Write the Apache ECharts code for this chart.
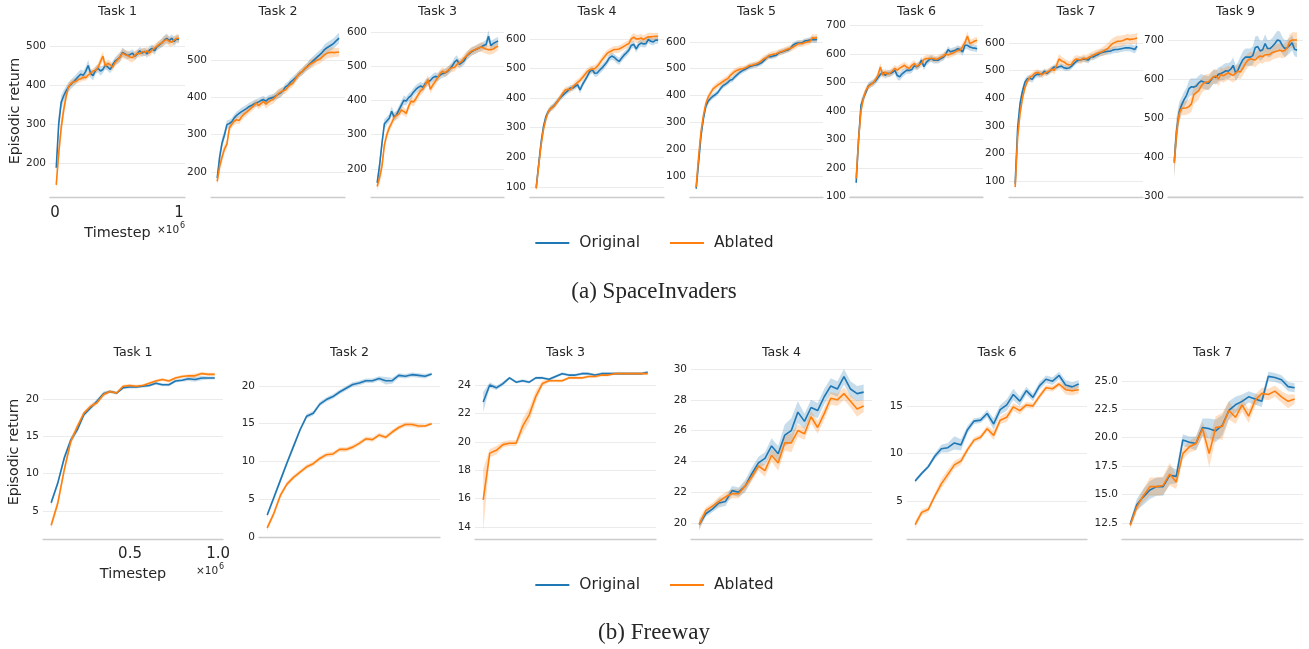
<!DOCTYPE html>
<html>
<head>
<meta charset="utf-8">
<script src="https://cdn.jsdelivr.net/npm/echarts@6/dist/echarts.min.js"></script>
<style>
  html, body { margin: 0; padding: 0; background: #fff; }
  #main { width: 1309px; height: 649px; }
</style>
</head>
<body>
<div id="main"></div>
<script>
// ---- data: SpaceInvaders (51 evaluations, x in 1e6 steps) ----
const spaceTitles = ['Task 1', 'Task 2', 'Task 3', 'Task 4', 'Task 5', 'Task 6', 'Task 7', 'Task 9'];

const siT1Orig = [188,300,355,372,385,395,402,408,415,422, 428,425,435,450,430,424,438,443,436,440, 451,446,440,452,462,466,472,484,480,476, 478,482,474,480,488,482,486,480,490,494, 488,498,503,508,515,520,514,520,512,518, 517];
const siT1OrigSd = [15,25,18,14,12,12,12,12,12,12, 12,12,12,14,12,12,10,10,12,10, 10,10,10,10,10,12,12,12,10,10, 10,10,10,10,10,10,10,10,10,10, 10,10,10,12,12,12,10,10,12,10, 10];
const siT1Abl = [144,225,290,335,370,396,404,408,410,414, 416,420,419,426,430,436,438,445,460,474, 448,456,452,446,458,465,472,482,478,476, 472,470,476,482,480,486,484,488,482,490, 495,500,505,508,514,517,512,510,515,520, 520];
const siT1AblSd = [15,25,25,20,15,10,8,8,8,8, 8,8,8,8,8,8,8,10,12,12, 10,10,10,10,10,10,12,12,12,12, 12,12,12,10,10,10,10,10,10,10, 10,10,10,10,12,12,12,12,10,10, 10];

const siT2Orig = [184,240,278,300,327,330,335,345,352,357, 362,366,370,375,378,382,385,388,392,394, 390,396,398,400,404,408,412,418,428,432, 440,446,452,458,465,470,477,483,490,496, 502,508,514,520,528,533,537,541,546,553, 559];
const siT2OrigSd = [12,15,15,12,12,10,10,10,10,10, 10,10,10,10,10,10,10,10,10,10, 10,10,10,10,10,12,12,10,10,10, 10,10,10,10,10,10,10,10,12,12, 12,12,12,12,14,14,14,14,14,14, 14];
const siT2Abl = [175,215,240,262,275,318,328,336,340,338, 348,355,360,366,372,378,385,378,384,389, 382,388,392,395,402,410,414,418,420,428, 434,438,448,458,465,470,478,482,488,492, 496,500,502,508,514,518,520,521,520,521, 521];
const siT2AblSd = [12,15,15,12,12,10,10,10,10,10, 10,10,10,10,10,10,10,10,10,10, 12,12,12,12,12,12,12,10,10,10, 10,10,10,10,10,10,10,10,12,12, 12,12,12,12,14,14,14,14,12,12, 12];

const siT3Orig = [159,210,275,332,340,348,368,352,358,372, 386,400,398,408,414,424,432,438,442,438, 450,454,458,466,470,468,474,478,480,484, 492,500,512,518,505,510,516,530,536,542, 546,549,553,556,560,563,587,560,566,570, 573];
const siT3OrigSd = [12,20,18,14,12,12,14,12,12,12, 12,14,12,12,12,12,12,12,12,12, 12,12,12,12,12,12,12,12,12,12, 12,12,14,14,12,12,12,12,12,12, 12,12,12,12,12,14,18,14,12,12, 12];
const siT3Abl = [149,175,208,270,300,320,334,350,356,360, 372,368,362,382,398,395,405,417,428,434, 446,461,432,445,455,466,478,485,480,486, 492,495,496,505,510,514,524,530,538,544, 546,550,553,556,553,550,548,548,550,555, 558];
const siT3AblSd = [12,20,20,16,14,12,12,12,12,12, 12,12,12,12,12,12,12,12,12,12, 12,14,12,12,12,12,12,12,12,12, 12,12,12,12,12,12,12,12,12,12, 12,12,12,14,14,14,14,14,14,14, 12];

const siT4Orig = [98,175,250,304,338,355,365,372,382,392, 402,410,418,425,434,434,440,445,428,446, 460,474,490,496,484,485,494,502,512,522, 536,542,538,530,524,535,545,553,562,578, 582,566,580,586,583,584,598,592,590,596, 596];
const siT4OrigSd = [10,20,18,14,12,10,10,10,10,10, 10,10,10,10,10,10,10,10,12,10, 10,10,12,12,12,12,12,12,12,12, 12,12,12,12,12,12,12,12,12,12, 12,12,12,12,12,12,12,12,12,12, 12];
const siT4Abl = [94,170,240,295,330,355,366,370,380,392, 405,418,428,430,428,438,446,453,460,470, 480,490,496,498,500,507,518,530,540,550, 556,560,564,564,566,570,575,580,584,600, 606,600,600,603,598,603,607,607,608,609, 609];
const siT4AblSd = [10,20,18,14,12,10,10,10,10,10, 10,10,10,10,10,10,12,12,12,12, 12,12,12,12,12,12,12,12,12,12, 12,12,12,12,12,12,12,12,12,12, 14,14,14,14,14,14,14,14,12,12, 12];

const siT5Orig = [53,150,250,314,360,380,390,398,404,412, 425,436,442,448,457,460,470,478,486,492, 497,502,507,510,513,514,518,522,530,540, 546,545,548,550,558,562,564,568,570,576, 588,593,596,596,598,604,605,607,609,608, 609];
const siT5OrigSd = [12,25,20,15,12,12,10,10,10,10, 10,10,10,10,10,10,10,10,10,10, 10,10,10,10,10,10,10,10,10,10, 10,10,10,10,10,10,10,10,10,10, 10,10,10,10,10,10,10,10,12,12, 12];
const siT5Abl = [59,170,265,326,370,395,410,425,432,440, 445,452,458,463,474,482,490,494,498,500, 502,506,512,513,516,519,523,530,538,540, 548,552,554,556,560,563,566,570,574,576, 580,586,592,594,594,598,600,602,615,614, 616];
const siT5AblSd = [12,25,20,15,12,12,12,12,12,12, 12,12,12,12,12,12,12,12,12,10, 10,10,10,10,10,10,10,12,12,12, 12,12,12,12,12,12,12,12,12,12, 12,12,12,12,12,12,12,12,14,14, 14];

const siT6Orig = [149,300,420,445,465,487,494,498,505,516, 528,535,525,532,531,535,542,524,520,530, 537,543,542,545,558,555,560,578,555,570, 578,584,578,578,578,584,588,598,615,607, 610,613,618,615,607,630,630,624,621,620, 618];
const siT6OrigSd = [20,30,20,15,12,12,12,12,12,12, 12,12,12,12,12,12,12,14,14,14, 12,12,12,12,12,12,12,12,12,12, 12,12,12,12,12,12,12,12,12,12, 12,12,12,12,14,14,14,12,12,12, 12];
const siT6Abl = [164,300,400,445,472,485,492,498,510,525, 554,525,537,528,533,540,549,543,550,555, 560,553,549,560,566,556,562,566,580,584, 584,584,584,580,584,588,592,600,596,600, 603,607,612,613,625,640,662,636,640,645, 648];
const siT6AblSd = [20,30,20,15,12,10,10,10,10,12, 14,12,12,12,12,12,12,12,12,12, 12,12,12,12,12,12,12,12,12,12, 12,12,12,12,12,12,12,12,12,12, 12,12,12,12,14,14,16,14,12,12, 12];

const siT7Orig = [90,290,380,425,458,470,472,468,481,487, 486,488,497,490,497,505,513,510,514,516, 510,508,509,515,524,533,538,539,542,540, 538,549,549,554,558,564,566,568,570,570, 574,576,576,578,580,582,582,582,580,576, 588];
const siT7OrigSd = [20,35,25,15,12,12,12,12,12,12, 12,10,10,10,10,10,10,10,10,10, 10,10,10,10,10,10,10,10,10,10, 12,12,12,12,12,12,12,12,12,12, 12,12,12,12,12,12,12,12,14,14, 14];
const siT7Abl = [78,260,345,400,438,462,475,481,490,493, 490,485,491,494,499,505,500,520,542,535, 531,524,521,522,535,542,540,539,545,542, 547,551,556,560,564,566,570,575,580,590, 598,602,606,606,608,612,615,612,614,615, 618];
const siT7AblSd = [20,35,25,15,12,12,12,12,12,12, 12,12,12,12,12,12,14,16,18,16, 14,14,14,14,14,14,14,14,14,14, 14,14,14,14,14,14,16,18,20,20, 20,20,20,20,20,18,18,18,18,18, 18];

const siT9Orig = [388,470,515,533,547,558,575,580,579,582, 590,595,592,590,589,597,606,604,612,614, 617,621,620,625,635,615,624,638,650,656, 656,656,660,681,683,672,675,691,678,678, 684,691,700,698,686,678,680,686,693,676, 674];
const siT9OrigSd = [40,35,25,20,20,20,22,22,22,20, 18,18,18,18,18,18,18,18,18,18, 20,20,20,20,20,20,20,20,22,22, 22,22,24,28,28,26,24,24,22,22, 22,24,24,24,22,22,20,20,20,18, 18];
const siT9Abl = [384,465,510,525,525,526,529,536,560,565, 570,582,589,592,593,600,605,608,600,612, 608,612,616,612,609,615,620,618,628,640, 648,652,650,649,655,659,657,662,662,663, 668,670,672,674,671,673,680,696,700,700, 700];
const siT9AblSd = [40,30,20,18,18,18,18,20,24,24, 22,20,20,20,20,18,18,18,18,18, 18,18,18,18,18,18,18,18,18,18, 18,18,18,18,18,18,18,18,18,18, 18,18,18,18,18,18,18,18,20,20, 20];

// ---- data: Freeway (26 evaluations) ----
const freewayTitles = ['Task 1', 'Task 2', 'Task 3', 'Task 4', 'Task 6', 'Task 7'];

const fwT1Orig = [6.1,8.7,12.1,14.5,15.9,17.9,18.8,19.7,20.7,21.0, 20.8,21.5,21.6,21.6,21.7,21.8,22.1,21.9,21.9,22.4, 22.5,22.7,22.6,22.8,22.8,22.8];
const fwT1OrigSd = [0.4,0.4,0.5,0.4,0.4,0.3,0.3,0.3,0.3,0.2, 0.2,0.2,0.2,0.2,0.2,0.2,0.2,0.2,0.2,0.2, 0.2,0.3,0.3,0.3,0.2,0.2];
const fwT1Abl = [3.1,6.0,10.5,14.3,16.3,18.1,19.0,19.5,20.6,21.0, 20.8,21.7,21.8,21.7,21.8,22.1,22.4,22.6,22.4,22.8, 23.0,23.1,23.1,23.4,23.3,23.3];
const fwT1AblSd = [0.5,0.6,0.6,0.5,0.4,0.3,0.3,0.3,0.3,0.2, 0.2,0.2,0.2,0.2,0.2,0.2,0.2,0.2,0.2,0.2, 0.2,0.2,0.3,0.2,0.2,0.2];

const fwT2Orig = [2.9,5.2,7.5,9.8,12.0,14.2,16.0,16.4,17.6,18.2, 18.6,19.2,19.7,20.2,20.4,20.7,20.7,21.0,20.7,20.7, 21.4,21.3,21.5,21.4,21.3,21.6];
const fwT2OrigSd = [0.3,0.4,0.4,0.4,0.4,0.3,0.3,0.3,0.3,0.3, 0.3,0.3,0.3,0.3,0.3,0.3,0.3,0.3,0.5,0.4, 0.3,0.3,0.3,0.3,0.3,0.2];
const fwT2Abl = [1.2,3.1,5.5,7.0,7.9,8.6,9.3,9.7,10.4,10.9, 11.0,11.6,11.6,11.9,12.4,13.0,12.9,13.5,13.2,13.9, 14.5,14.9,14.9,14.7,14.7,15.0];
const fwT2AblSd = [0.4,0.4,0.4,0.3,0.3,0.3,0.3,0.3,0.3,0.3, 0.3,0.3,0.3,0.3,0.3,0.3,0.3,0.3,0.3,0.3, 0.3,0.3,0.3,0.3,0.2,0.2];

const fwT3Orig = [22.8,24.0,23.8,24.1,24.5,24.2,24.3,24.2,24.5,24.5, 24.4,24.6,24.8,24.7,24.7,24.8,24.8,24.7,24.8,24.8, 24.8,24.8,24.8,24.8,24.8,24.9];
const fwT3OrigSd = [0.7,0.2,0.15,0.15,0.1,0.1,0.1,0.1,0.1,0.1, 0.1,0.1,0.1,0.1,0.1,0.1,0.1,0.1,0.1,0.1, 0.1,0.1,0.1,0.1,0.1,0.1];
const fwT3Abl = [15.9,19.2,19.4,19.8,19.9,19.9,21.1,21.9,23.2,24.1, 24.3,24.3,24.3,24.5,24.5,24.5,24.6,24.6,24.7,24.7, 24.8,24.8,24.8,24.8,24.8,24.8];
const fwT3AblSd = [2.2,0.3,0.3,0.2,0.2,0.2,0.5,0.5,0.4,0.2, 0.1,0.1,0.1,0.1,0.1,0.1,0.1,0.1,0.1,0.1, 0.1,0.1,0.1,0.1,0.1,0.1];

const fwT4Orig = [19.9,20.6,20.9,21.3,21.4,22.1,22.0,22.4,23.2,23.9, 24.2,25.0,24.5,25.7,26.0,27.2,26.6,27.5,27.3,28.2, 28.9,28.7,29.5,28.7,28.4,28.5];
const fwT4OrigSd = [0.3,0.2,0.2,0.3,0.3,0.3,0.3,0.4,0.4,0.4, 0.4,0.5,0.5,0.7,0.8,0.7,0.5,0.5,0.5,0.5, 0.5,0.5,0.5,0.5,0.5,0.5];
const fwT4Abl = [19.9,20.8,21.1,21.4,21.7,21.9,21.9,22.4,23.0,23.7, 23.4,24.4,23.9,25.2,25.2,26.0,25.8,26.9,26.2,27.1, 28.1,28.0,28.4,27.9,27.4,27.6];
const fwT4AblSd = [0.4,0.2,0.2,0.3,0.3,0.3,0.3,0.3,0.3,0.3, 0.4,0.4,0.5,0.5,0.6,0.4,0.4,0.4,0.4,0.4, 0.4,0.4,0.4,0.4,0.5,0.4];

const fwT6Orig = [7.1,7.9,8.6,9.7,10.5,10.6,11.1,10.9,12.5,13.4, 13.5,14.2,13.1,14.6,15.1,16.2,15.5,16.6,15.9,17.1, 17.8,17.6,18.2,17.2,17.0,17.3];
const fwT6OrigSd = [0.2,0.2,0.2,0.3,0.4,0.5,0.7,0.6,0.4,0.3, 0.3,0.4,0.6,0.5,0.6,0.6,0.5,0.4,0.4,0.4, 0.4,0.4,0.4,0.5,0.5,0.4];
const fwT6Abl = [2.5,3.8,4.1,5.5,6.8,7.8,8.8,9.2,10.4,11.4, 11.7,12.6,11.9,13.5,13.8,14.9,14.5,15.1,15.0,16.0, 16.9,16.8,17.3,16.7,16.6,16.7];
const fwT6AblSd = [0.4,0.3,0.3,0.3,0.5,0.5,0.4,0.4,0.3,0.3, 0.3,0.3,0.5,0.4,0.5,0.4,0.4,0.3,0.3,0.3, 0.3,0.3,0.3,0.5,0.5,0.4];

const fwT7Orig = [12.4,14.1,14.8,15.4,15.7,15.7,16.7,16.6,19.8,19.6, 19.5,20.9,20.8,20.6,21.1,22.4,22.9,23.2,23.6,23.4, 23.2,25.4,25.3,25.1,24.5,24.4];
const fwT7OrigSd = [0.3,0.5,0.7,0.8,0.8,0.8,0.8,0.6,0.5,0.5, 0.6,0.8,0.9,1.0,0.9,0.8,0.7,0.6,0.5,0.5, 0.5,0.4,0.4,0.4,0.4,0.4];
const fwT7Abl = [12.3,13.9,14.9,15.7,15.7,15.8,16.8,16.1,18.6,19.2, 19.5,20.8,18.6,20.9,21.0,22.4,21.8,22.9,21.9,23.3, 23.9,23.8,24.1,23.6,23.2,23.4];
const fwT7AblSd = [0.3,0.4,0.6,0.8,0.8,0.8,1.0,0.6,0.5,0.5, 0.6,0.6,1.2,1.0,1.2,0.8,0.6,0.6,0.6,0.5, 0.5,0.5,0.5,0.5,0.6,0.4];

function linspace(a, b, n) {
  const out = [];
  for (let i = 0; i < n; i++) out.push(a + (b - a) * i / (n - 1));
  return out;
}
const spaceSteps = linspace(0.01, 1.0, 51);
const freewaySteps = linspace(0.052, 0.981, 26);

const spaceData = [
  [siT1Orig, siT1OrigSd, siT1Abl, siT1AblSd],
  [siT2Orig, siT2OrigSd, siT2Abl, siT2AblSd],
  [siT3Orig, siT3OrigSd, siT3Abl, siT3AblSd],
  [siT4Orig, siT4OrigSd, siT4Abl, siT4AblSd],
  [siT5Orig, siT5OrigSd, siT5Abl, siT5AblSd],
  [siT6Orig, siT6OrigSd, siT6Abl, siT6AblSd],
  [siT7Orig, siT7OrigSd, siT7Abl, siT7AblSd],
  [siT9Orig, siT9OrigSd, siT9Abl, siT9AblSd]
];
const freewayData = [
  [fwT1Orig, fwT1OrigSd, fwT1Abl, fwT1AblSd],
  [fwT2Orig, fwT2OrigSd, fwT2Abl, fwT2AblSd],
  [fwT3Orig, fwT3OrigSd, fwT3Abl, fwT3AblSd],
  [fwT4Orig, fwT4OrigSd, fwT4Abl, fwT4AblSd],
  [fwT6Orig, fwT6OrigSd, fwT6Abl, fwT6AblSd],
  [fwT7Orig, fwT7OrigSd, fwT7Abl, fwT7AblSd]
];

// ---- layout: [left, width, yMin, yMax, yInterval] ----
const spaceLayout = [
  [50, 135, 113, 554, 100], [211, 134, 133, 594, 100], [371, 133, 118, 620, 100], [530, 134, 66, 647, 100],
  [690, 133, 22, 663, 100], [850, 133, 99, 701, 100], [1009, 134, 42, 665, 100], [1168, 135, 297, 738.5, 100]
];
const freewayLayout = [
  [43, 180, 1.25, 24.55, 5], [259, 181, -0.27, 22.78, 5], [475, 181, 13.15, 25.41, 2],
  [691, 181, 18.96, 30.26, 2], [907, 180, 1.0, 19.3, 5], [1122, 181, 11.09, 26.4, 2.5]
];

const BLUE = '#1f77b4', ORANGE = '#ff7f0e';
const BLUE_BAND = 'rgba(31,119,180,0.25)', ORANGE_BAND = 'rgba(255,127,14,0.25)';
const TEXT = '#262626';
const FONT = 'DejaVu Sans';

const grids = [], xAxes = [], yAxes = [], series = [], graphics = [];

function bandSeries(idx, xs, mean, sd, fill) {
  return {
    type: 'custom', xAxisIndex: idx, yAxisIndex: idx, silent: true, z: 1, clip: true,
    data: [[xs[0], mean[0]]], encode: { x: 0, y: 1 },
    renderItem: function (params, api) {
      const pts = [];
      for (let k = 0; k < xs.length; k++) pts.push(api.coord([xs[k], mean[k] + sd[k]]));
      for (let k = xs.length - 1; k >= 0; k--) pts.push(api.coord([xs[k], mean[k] - sd[k]]));
      return { type: 'polygon', shape: { points: pts }, style: { fill: fill } };
    }
  };
}

function lineSeries(idx, name, xs, mean, color) {
  return {
    type: 'line', name: name, xAxisIndex: idx, yAxisIndex: idx, z: 3, silent: true,
    symbol: 'none', showSymbol: false,
    data: xs.map((x, k) => [x, mean[k]]),
    lineStyle: { width: 1.6, color: color }, itemStyle: { color: color }
  };
}

function addPanel(p) {
  const idx = grids.length;
  grids.push({ left: p.left, top: p.top, width: p.width, height: p.height });
  xAxes.push({
    type: 'value', gridIndex: idx, min: p.xMin, max: p.xMax,
    minInterval: p.xIv, maxInterval: p.xIv,
    axisLine: { show: true, lineStyle: { color: '#cccccc', width: 1.3 } },
    axisTick: { show: false }, splitLine: { show: false },
    axisLabel: {
      show: p.first, fontSize: 15, color: TEXT, fontFamily: FONT, margin: p.xMargin,
      showMinLabel: false, showMaxLabel: false, formatter: p.xFmt
    },
    name: p.first ? 'Timestep' : '', nameLocation: 'middle', nameGap: p.xNameGap,
    nameTextStyle: { fontSize: 14.4, color: TEXT, fontFamily: FONT }
  });
  yAxes.push({
    type: 'value', gridIndex: idx, min: p.yMin, max: p.yMax,
    minInterval: p.yIv, maxInterval: p.yIv,
    axisLine: { show: false }, axisTick: { show: false },
    splitLine: { show: true, showMinLine: false, showMaxLine: false, lineStyle: { color: '#ebebeb', width: 1 } },
    axisLabel: {
      fontSize: 10.5, color: TEXT, fontFamily: FONT, margin: 4,
      showMinLabel: false, showMaxLabel: false, formatter: p.yFmt
    },
    name: p.first ? 'Episodic return' : '', nameLocation: 'middle', nameRotate: 90, nameGap: p.yNameGap,
    nameTextStyle: { fontSize: 14.2, color: TEXT, fontFamily: FONT }
  });
  const [orig, origSd, abl, ablSd] = p.data;
  series.push(bandSeries(idx, p.steps, orig, origSd, BLUE_BAND));
  series.push(bandSeries(idx, p.steps, abl, ablSd, ORANGE_BAND));
  series.push(lineSeries(idx, 'Original', p.steps, orig, BLUE));
  series.push(lineSeries(idx, 'Ablated', p.steps, abl, ORANGE));
  graphics.push({
    type: 'text', x: p.left + p.width / 2, y: p.titleY, silent: true,
    style: { text: p.title, fontSize: 12.6, fontFamily: FONT, fill: TEXT,
             align: 'center', verticalAlign: 'middle', textAlign: 'center', textVerticalAlign: 'middle' }
  });
}

spaceLayout.forEach((l, i) => addPanel({
  left: l[0], width: l[1], top: 25, height: 172, yMin: l[2], yMax: l[3], yIv: l[4],
  xMin: -0.0403, xMax: 1.048, xIv: 1, xFmt: v => String(v), yFmt: v => String(v),
  first: i === 0, xMargin: 9, xNameGap: 29, yNameGap: 27,
  steps: spaceSteps, data: spaceData[i], title: spaceTitles[i], titleY: 12
}));
freewayLayout.forEach((l, i) => addPanel({
  left: l[0], width: l[1], top: 365, height: 174, yMin: l[2], yMax: l[3], yIv: l[4],
  xMin: 0.0057, xMax: 1.028, xIv: 0.5, xFmt: v => v.toFixed(1),
  yFmt: l[4] === 2.5 ? (v => v.toFixed(1)) : (v => String(v)),
  first: i === 0, xMargin: 8, xNameGap: 28, yNameGap: 20,
  steps: freewaySteps, data: freewayData[i], title: freewayTitles[i], titleY: 353
}));

function textEl(text, x, y, size, family, align) {
  return {
    type: 'text', x: x, y: y, silent: true,
    style: { text: text, fontSize: size, fontFamily: family, fill: TEXT,
             align: align || 'center', verticalAlign: 'middle',
             textAlign: align || 'center', textVerticalAlign: 'middle' }
  };
}
// offset labels for the timestep axis
graphics.push(textEl('×10', 157, 230, 10.5, FONT, 'left'));
graphics.push(textEl('6', 180, 226, 8, FONT, 'left'));
graphics.push(textEl('×10', 196, 571, 10.5, FONT, 'left'));
graphics.push(textEl('6', 219, 567, 8, FONT, 'left'));
graphics.push(textEl('(a) SpaceInvaders', 654, 292, 23, 'Liberation Serif'));
graphics.push(textEl('(b) Freeway', 654, 633, 23, 'Liberation Serif'));

function legendAt(top) {
  return {
    top: top, left: 'center', data: ['Original', 'Ablated'],
    icon: 'rect', itemWidth: 34, itemHeight: 2, itemGap: 30, selectedMode: false,
    itemStyle: { opacity: 1 },
    textStyle: { fontSize: 15.5, color: TEXT, fontFamily: FONT, padding: [0, 0, 0, 5] }
  };
}

const chart = echarts.init(document.getElementById('main'), null, { renderer: 'canvas' });
chart.setOption({
  animation: false,
  backgroundColor: '#ffffff',
  textStyle: { fontFamily: FONT },
  legend: [legendAt(230), legendAt(572)],
  grid: grids,
  xAxis: xAxes,
  yAxis: yAxes,
  series: series,
  graphic: graphics
});
</script>
</body>
</html>
